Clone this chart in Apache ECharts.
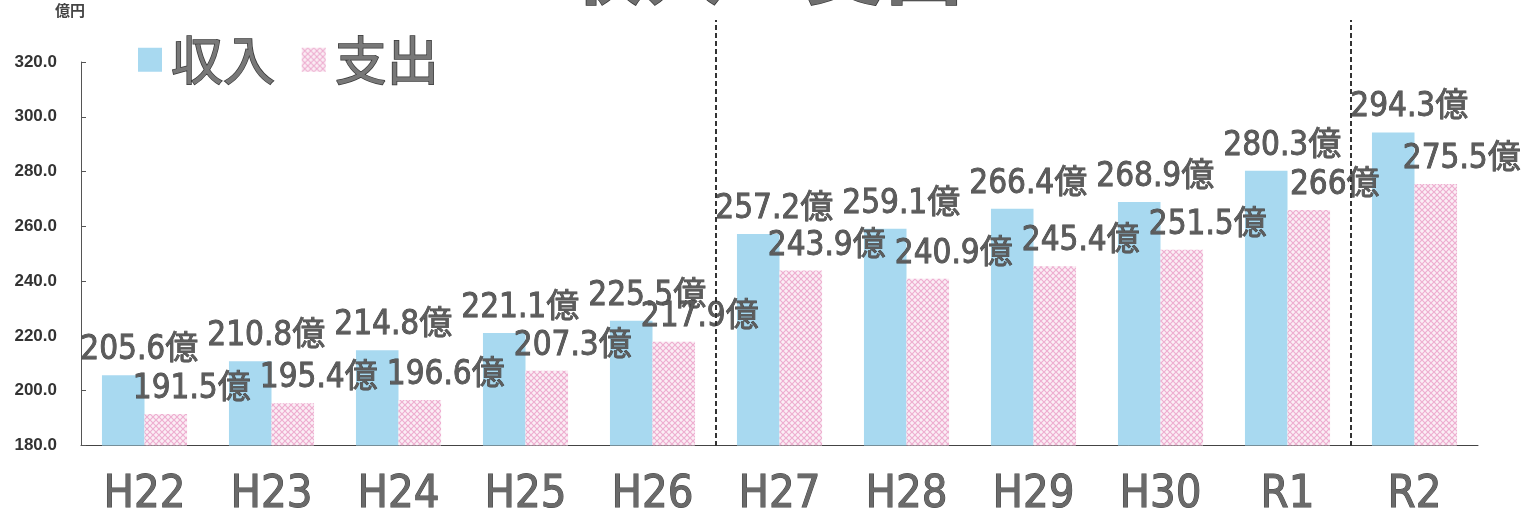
<!DOCTYPE html>
<html>
<head>
<meta charset="utf-8">
<script src="https://cdn.jsdelivr.net/npm/echarts@6/dist/echarts.min.js"></script>
<style>
  html, body { margin: 0; padding: 0; background: #fff; }
  #main { width: 1528px; height: 518px; }
</style>
</head>
<body>
<div id="main"></div>
<script>
// 年度
var years = ['H22', 'H23', 'H24', 'H25', 'H26', 'H27', 'H28', 'H29', 'H30', 'R1', 'R2'];
// 収入 (億円)
var income = [205.6, 210.8, 214.8, 221.1, 225.5, 257.2, 259.1, 266.4, 268.9, 280.3, 294.3];
// 支出 (億円)
var expense = [191.5, 195.4, 196.6, 207.3, 217.9, 243.9, 240.9, 245.4, 251.5, 266, 275.5];
// 区切り線の位置 (H26|H27, R1|R2)
var dividers = [5, 10];

var narrow = "'Liberation Sans Narrow', 'DejaVu Sans Condensed', 'Noto Sans CJK JP', sans-serif";

// 支出のハッチ模様
function makePattern() {
    var c = document.createElement('canvas');
    c.width = 6;
    c.height = 6;
    var ctx = c.getContext('2d');
    ctx.fillStyle = '#fbeef5';
    ctx.fillRect(0, 0, 6, 6);
    ctx.strokeStyle = '#eeaed0';
    ctx.lineWidth = 1.2;
    ctx.beginPath();
    ctx.moveTo(0, 0); ctx.lineTo(6, 6);
    ctx.moveTo(6, 0); ctx.lineTo(0, 6);
    ctx.stroke();
    return c;
}

var myChart = echarts.init(document.getElementById('main'));

var option = {
    backgroundColor: '#fff',
    animation: false,
    title: {
        text: '収入・支出',
        left: 'center',
        top: -78,
        textStyle: {
            fontFamily: 'Noto Sans CJK JP',
            fontSize: 80,
            fontWeight: 'bold',
            color: '#6f6f6f',
            textBorderColor: '#333',
            textBorderWidth: 1.5
        }
    },
    legend: {
        left: 133,
        top: 28,
        itemWidth: 24,
        itemHeight: 24,
        itemGap: 26,
        icon: 'rect',
        textStyle: {
            fontFamily: 'Noto Sans CJK JP',
            fontSize: 52,
            color: '#787878',
            textBorderColor: '#3a3a3a',
            textBorderWidth: 1.5,
            padding: [0, 0, 0, 4]
        },
        data: ['収入', '支出']
    },
    grid: [
        { left: 81, right: 50, top: 62, bottom: 72 },
        { left: 81, right: 50, top: 20, bottom: 72 }
    ],
    xAxis: [{
        type: 'category',
        data: years,
        gridIndex: 0,
        axisLine: { lineStyle: { color: '#444', width: 1 } },
        axisTick: { inside: true, length: 12, lineStyle: { color: '#333' } },
        axisLabel: {
            fontFamily: narrow,
            fontSize: 45,
            color: '#6a6a6a',
            textBorderColor: '#444',
            textBorderWidth: 1,
            margin: 27
        }
    }, {
        type: 'value',
        gridIndex: 1,
        min: 0,
        max: 11,
        show: false
    }],
    yAxis: [{
        type: 'value',
        gridIndex: 0,
        min: 180,
        max: 320,
        interval: 20,
        name: '億円',
        nameGap: 44,
        nameTextStyle: {
            fontFamily: 'Noto Sans CJK JP',
            fontSize: 15,
            fontWeight: 'bold',
            color: '#444',
            align: 'right',
            padding: [0, -4, 0, 0]
        },
        axisLine: { show: true, lineStyle: { color: '#555', width: 1 } },
        axisTick: { show: true, inside: true, length: 5, lineStyle: { color: '#555' } },
        splitLine: { show: false },
        axisLabel: {
            fontFamily: 'Liberation Sans, Arial, sans-serif',
            fontSize: 17,
            fontWeight: 'bold',
            color: '#333',
            margin: 24,
            formatter: function (v) { return v.toFixed(1); }
        }
    }, {
        type: 'value',
        gridIndex: 1,
        min: 0,
        max: 1,
        show: false
    }],
    series: [{
        name: '収入',
        type: 'bar',
        data: income,
        barCategoryGap: '33%',
        barGap: '0%',
        itemStyle: { color: '#a8d9f0' },
        label: {
            show: true,
            position: 'top',
            distance: 8,
            offset: [16, 0],
            fontFamily: narrow,
            fontSize: 33,
            color: '#5c5c5c',
            textBorderColor: '#3c3c3c',
            textBorderWidth: 0.8,
            formatter: function (p) { return p.value + '億'; }
        }
    }, {
        name: '支出',
        type: 'bar',
        data: expense,
        barCategoryGap: '33%',
        barGap: '0%',
        itemStyle: { color: { image: makePattern(), repeat: 'repeat' } },
        label: {
            show: true,
            position: 'top',
            distance: 8,
            offset: [26, 0],
            fontFamily: narrow,
            fontSize: 33,
            color: '#5c5c5c',
            textBorderColor: '#3c3c3c',
            textBorderWidth: 0.8,
            formatter: function (p) { return p.value + '億'; }
        }
    }, {
        // 区切りの点線
        type: 'line',
        xAxisIndex: 1,
        yAxisIndex: 1,
        data: [[0, 0]],
        showSymbol: false,
        lineStyle: { opacity: 0 },
        silent: true,
        markLine: {
            silent: true,
            symbol: 'none',
            label: { show: false },
            lineStyle: { type: [5, 3], color: '#333', width: 2 },
            data: dividers.map(function (d) { return { xAxis: d }; })
        }
    }]
};

myChart.setOption(option);
</script>
</body>
</html>
